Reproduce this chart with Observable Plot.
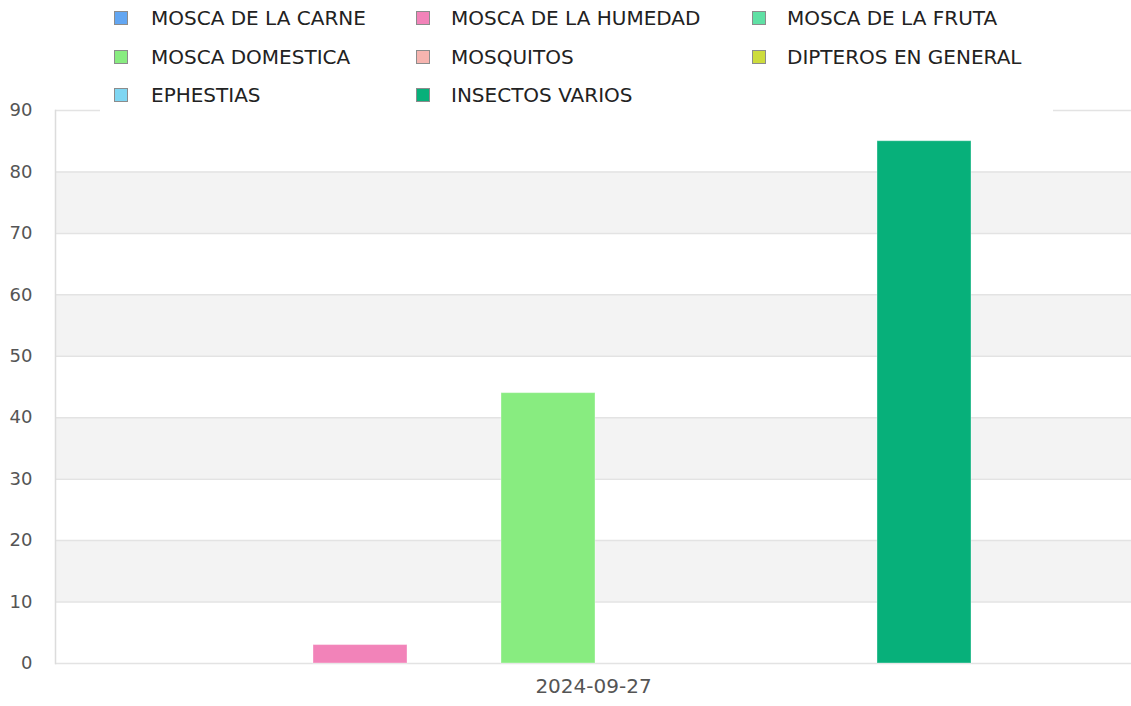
<!DOCTYPE html>
<html>
<head>
<meta charset="utf-8">
<script src="https://cdn.jsdelivr.net/npm/d3@7"></script>
<script src="https://cdn.jsdelivr.net/npm/@observablehq/plot@0.6"></script>
<style>
  html, body { margin: 0; padding: 0; background: #fff; }
  #wrap { position: relative; width: 1131px; height: 706px; font-family: "DejaVu Sans", sans-serif; }
  #legend { position: absolute; left: 100px; top: 0; width: 953px; height: 116px; background: #fff; }
  .item { position: absolute; height: 24px; display: flex; align-items: center; font-size: 20px; color: #222; white-space: nowrap; }
  .sw { width: 12px; height: 12px; border: 1.5px solid #8c8c8c; margin-right: 23px; box-sizing: content-box; }
</style>
</head>
<body>
<div id="wrap">
  <div id="chart"></div>
  <div id="legend"></div>
</div>
<script>
const dates = ["2024-09-27"];
const series = ["MOSCA DE LA CARNE", "MOSCA DE LA HUMEDAD", "MOSCA DE LA FRUTA", "MOSCA DOMESTICA", "MOSQUITOS", "DIPTEROS EN GENERAL", "EPHESTIAS", "INSECTOS VARIOS"];
const values = [0, 3, 0, 44, 0, 0, 0, 85];
const colors = ["#62a6f2", "#f283b9", "#5fe0a4", "#88ec80", "#f6b4af", "#cddc3c", "#7fd6f2", "#07b07a"];
const yTicks = [0, 10, 20, 30, 40, 50, 60, 70, 80, 90];

const data = series.map((s, i) => ({series: s, value: values[i], date: dates[0]}));
const stripes = [];
for (let i = 1; i < yTicks.length - 1; i += 2) stripes.push([yTicks[i], yTicks[i + 1]]);

const chart = Plot.plot({
  width: 1131,
  height: 706,
  marginTop: 110,
  marginBottom: 43,
  marginLeft: 55,
  marginRight: 0,
  style: {fontFamily: "DejaVu Sans, sans-serif", fontSize: "18px", color: "#555", background: "#fff"},
  x: {domain: series, paddingInner: 0, paddingOuter: 1.70, range: [59, 1131], axis: null},
  y: {domain: [0, 90], ticks: yTicks, tickSize: 0, tickPadding: 23, label: null},
  color: {domain: series, range: colors},
  marks: [
    Plot.rect(stripes, {y1: d => d[0], y2: d => d[1], fill: "#f3f3f3"}),
    Plot.ruleY(yTicks, {stroke: "#e3e3e3", strokeWidth: 1.5}),
    Plot.frame({anchor: "left", stroke: "#dcdcdc", strokeWidth: 1.5}),
    Plot.barY(data, {x: "series", y: "value", fill: "series", stroke: "#ffffff", strokeOpacity: 0.35, strokeWidth: 1}),
    Plot.text(dates, {text: d => d, frameAnchor: "bottom", dy: 29, fontSize: 20, fill: "#555"})
  ]
});
document.getElementById("chart").appendChild(chart);

// legend (row-wise, 3 columns)
const colX = [14, 316, 652];
const rowY = [6, 45, 83];
const legend = document.getElementById("legend");
series.forEach((s, i) => {
  const r = Math.floor(i / 3), c = i % 3;
  const div = document.createElement("div");
  div.className = "item";
  div.style.left = colX[c] + "px";
  div.style.top = rowY[r] + "px";
  const sw = document.createElement("span");
  sw.className = "sw";
  sw.style.background = colors[i];
  if (c > 0) sw.style.marginRight = "21px";
  const t = document.createElement("span");
  t.textContent = s;
  div.appendChild(sw);
  div.appendChild(t);
  legend.appendChild(div);
});
</script>
</body>
</html>
